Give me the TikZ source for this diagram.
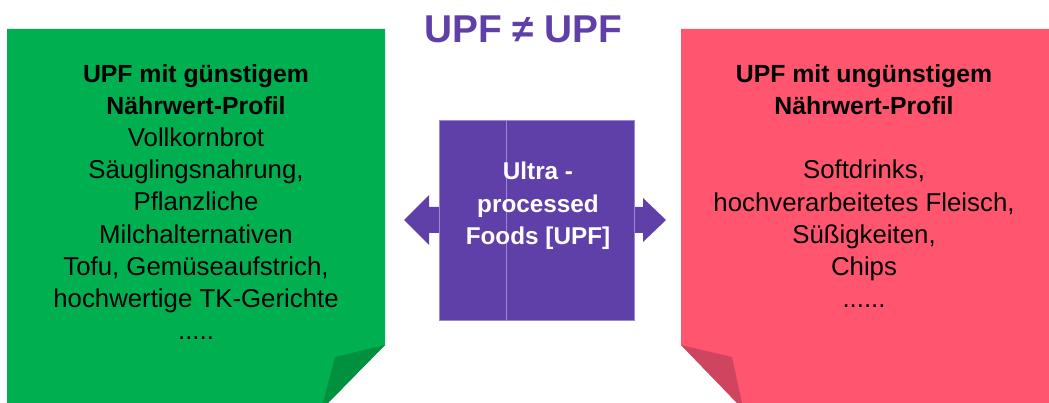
\documentclass[tikz,border=0pt]{standalone}
\usepackage{fontspec}
\setmainfont{Liberation Sans}
\definecolor{upfgreen}{HTML}{00B050}
\definecolor{upfgreendark}{HTML}{00913F}
\definecolor{upfred}{HTML}{FF556F}
\definecolor{upfreddark}{HTML}{CF4560}
\definecolor{upfpurple}{HTML}{5F3FA8}
\definecolor{upfpurplelight}{HTML}{9C88D0}
\newcommand{\hdr}[1]{{\fontsize{24.8}{32.2}\selectfont\bfseries #1}}
\tikzset{
  bodytext/.style={align=center, inner sep=0pt, text=black, font=\fontsize{25.8}{32.2}\selectfont},
  centertext/.style={align=center, inner sep=0pt, text=white, font=\fontsize{24.3}{32.5}\selectfont\bfseries},
}
\begin{document}
\begin{tikzpicture}[x=1pt,y=-1pt]
\useasboundingbox (0,0) rectangle (1049,403);
% green sheet
\fill[upfgreen] (7,29) -- (385,29) -- (385,345) -- (328,403) -- (7,403) -- cycle;
\fill[upfgreendark] (385,345) -- (335,357) -- (323,403) -- (328,403) -- cycle;
% red sheet
\fill[upfred] (681,29) -- (1049,29) -- (1049,403) -- (737,403) -- (681,345) -- cycle;
\fill[upfreddark] (681,345) -- (732,357) -- (742,403) -- (737,403) -- cycle;
% arrows
\fill[upfpurple] (440,207) -- (429,207) -- (429,195) -- (404,220) -- (429,245) -- (429,233) -- (440,233) -- cycle;
\fill[upfpurple] (633,207) -- (643,207) -- (643,198) -- (666,220) -- (643,242) -- (643,233) -- (633,233) -- cycle;
% centre box
\node[fill=upfpurple, draw=upfpurplelight, line width=0.5pt, minimum width=195pt, minimum height=200pt, inner sep=0pt] (core) at (536.5,220) {};
\draw[upfpurplelight, line width=0.6pt] (506,120.5) -- (506,319.5);
\node[centertext] (coretext) at (538,206) {Ultra -\\processed\\Foods [UPF]};
% title
\node[inner sep=0pt, text=upfpurple, font=\fontsize{38.8}{40}\selectfont\bfseries] (title) at (523.5,29) {UPF ≠ UPF};
% texts
\node[bodytext] (goodtext) at (196,202) {\hdr{UPF mit günstigem}\\\hdr{Nährwert-Profil}\\Vollkornbrot\\Säuglingsnahrung,\\Pflanzliche\\Milchalternativen\\Tofu, Gemüseaufstrich,\\hochwertige TK-Gerichte\\.....};
\node[bodytext] (badtext) at (864,186) {\hdr{UPF mit ungünstigem}\\\hdr{Nährwert-Profil}\\\mbox{}\\Softdrinks,\\hochverarbeitetes Fleisch,\\Süßigkeiten,\\Chips\\......};
\end{tikzpicture}
\end{document}
